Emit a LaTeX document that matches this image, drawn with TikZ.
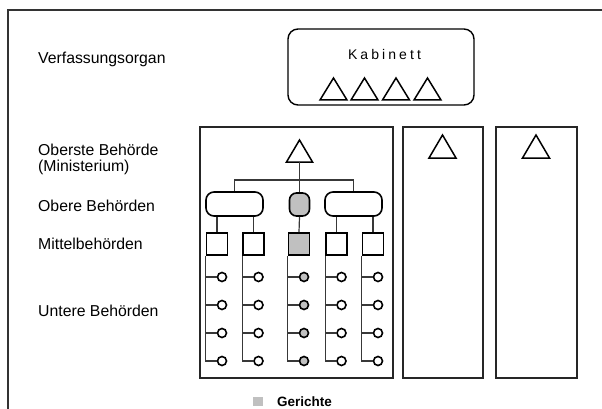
\documentclass[tikz,border=0pt]{standalone}
\usepackage{fontspec}
\setmainfont{Liberation Sans}
\definecolor{court}{HTML}{C0C0C0}
\definecolor{wire}{HTML}{383838}
\begin{document}
\begin{tikzpicture}[x=1pt,y=-1pt,
  lbl/.style={anchor=base west, inner sep=0pt, font=\fontsize{15.8}{18}\selectfont},
  frame/.style={draw=black!85, line width=1.3pt},
  organ/.style={draw=black, line width=1.4pt, rounded corners=10pt, minimum width=186pt, minimum height=76pt, inner sep=0pt},
  tri/.style={draw=black, line width=1.5pt, line join=miter},
  pill/.style={draw=black, line width=1.6pt, rounded corners=8pt, minimum width=57pt, minimum height=24pt, inner sep=0pt},
  gpill/.style={draw=black, fill=court, line width=1.6pt, rounded corners=7pt, minimum width=20pt, minimum height=23pt, inner sep=0pt},
  midbox/.style={draw=black, line width=1.6pt, minimum width=21pt, minimum height=22pt, inner sep=0pt},
  leaf/.style={draw=black, circle, line width=1.6pt, minimum size=9pt, inner sep=0pt},
  wire/.style={draw=wire, line width=1.2pt},
]
\useasboundingbox (0,0) rectangle (602,409);

% outer frame (open to the right and bottom)
\draw[draw=black!80, line width=1.3pt] (602,10) -- (8,10) -- (8,409);

% level labels
\node[lbl] (l0) at (38,64) {Verfassungsorgan};
\node[lbl] (l1a) at (38,155) {Oberste Behörde};
\node[lbl] (l1b) at (38,171.5) {(Ministerium)};
\node[lbl] (l2) at (38,211) {Obere Behörden};
\node[lbl] (l3) at (38,249) {Mittelbehörden};
\node[lbl] (l4) at (38,316) {Untere Behörden};

% cabinet
\node[organ] (kab) at (381,67) {};
\node[anchor=base, inner sep=0pt, font=\fontsize{14}{16}\selectfont\addfontfeature{LetterSpace=22}] (kabt) at (384.5,59.5) {Kabinett};
\foreach \c in {333.5,364.5,396,427.5}
  \draw[tri] ({\c-13.5},100) -- (\c,78) -- ({\c+13.5},100) -- cycle;

% ministry columns
\draw[frame] (200,127) rectangle (393,378);
\draw[frame] (403,127) rectangle (483,378);
\draw[frame] (496,127) rectangle (577,378);
\draw[tri] (286.5,162) -- (299.5,140) -- (312.5,162) -- cycle;
\draw[tri] (429,158) -- (442.5,135) -- (456,158) -- cycle;
\draw[tri] (522.5,158) -- (536,135) -- (549.5,158) -- cycle;
\coordinate (tb) at (299.5,162);
\coordinate (bar) at (299.5,180);

% upper authorities
\node[pill] (pl) at (234.5,204) {};
\node[gpill] (pg) at (299.5,204.5) {};
\node[pill] (pr) at (353.5,204) {};
\draw[wire] (tb) -- (pg.north);
\draw[wire] (pl.north) |- (bar) -| (pr.north);

% middle and lower authorities
\foreach \i/\x/\f in {1/217/white,2/253.5/white,3/299/court,4/336.5/white,5/373/white} {
  \node[midbox, fill=\f] (m\i) at (\x,244) {};
  \foreach \j/\y in {1/277,2/305,3/333,4/361}
    \node[leaf, fill=\f] (u\i-\j) at ({\x+5},\y) {};
  \draw[wire] (m\i.south west) |- (u\i-4.west);
  \foreach \j in {1,2,3}
    \draw[wire] (m\i.south west |- u\i-\j) -- (u\i-\j.west);
}
\draw[wire] (m1.north |- pl.south) -- (m1.north);
\draw[wire] (m2.north |- pl.south) -- (m2.north);
\draw[wire] (pg.south) -- (m3.north);
\draw[wire] (m4.north |- pr.south) -- (m4.north);
\draw[wire] (m5.north |- pr.south) -- (m5.north);

% legend
\node[fill=court, minimum width=10pt, minimum height=9pt, inner sep=0pt] (key) at (258,401.5) {};
\node[anchor=base west, inner sep=0pt, font=\fontsize{13.5}{16}\selectfont\bfseries] (keyt) at (277,406) {Gerichte};
\end{tikzpicture}
\end{document}
